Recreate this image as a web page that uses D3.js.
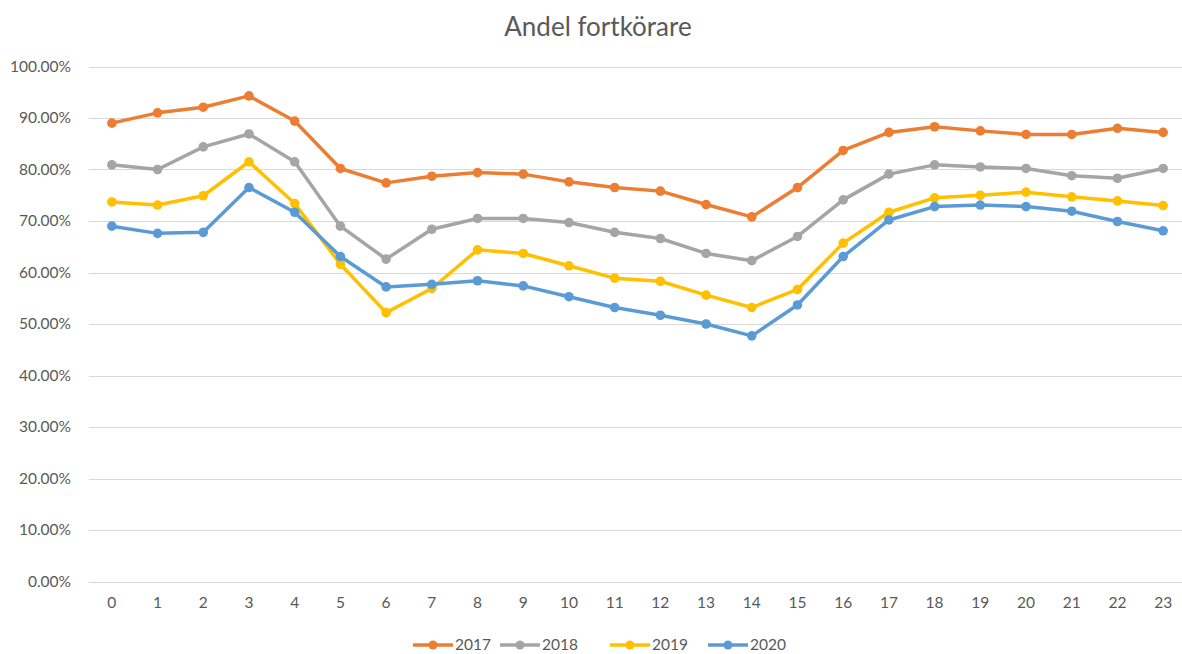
<!DOCTYPE html>
<html>
<head>
<meta charset="utf-8">
<script src="https://cdn.jsdelivr.net/npm/d3@7"></script>
<style>
  body { margin: 0; background: #fff; }
  svg text { font-family: Lato, "Open Sans", sans-serif; fill: #595959; }
</style>
</head>
<body>
<svg id="chart" width="1182" height="654"></svg>
<script>
// hours on the x axis
const hours = d3.range(0, 24).map(String);

// share of speeders per hour (%)
const y2017 = [89.0, 91.0, 92.1, 94.3, 89.4, 80.2, 77.4, 78.7, 79.4, 79.1, 77.6, 76.5,
               75.8, 73.2, 70.8, 76.5, 83.7, 87.2, 88.3, 87.5, 86.8, 86.8, 88.0, 87.2];
const y2018 = [80.9, 80.0, 84.4, 86.9, 81.5, 69.0, 62.6, 68.4, 70.5, 70.5, 69.7, 67.8,
               66.6, 63.7, 62.3, 67.0, 74.1, 79.1, 80.9, 80.5, 80.2, 78.8, 78.3, 80.2];
const y2019 = [73.7, 73.1, 74.9, 81.5, 73.4, 61.6, 52.2, 56.9, 64.4, 63.7, 61.3, 58.9,
               58.3, 55.6, 53.2, 56.7, 65.7, 71.7, 74.5, 75.0, 75.6, 74.7, 73.9, 73.0];
const y2020 = [69.0, 67.6, 67.8, 76.5, 71.7, 63.1, 57.2, 57.7, 58.4, 57.4, 55.3, 53.2,
               51.7, 50.0, 47.7, 53.7, 63.1, 70.2, 72.8, 73.1, 72.8, 71.9, 69.9, 68.1];

const seriesNames = ["2017", "2018", "2019", "2020"];
const colors = ["#ED7D31", "#A5A5A5", "#FFC000", "#5B9BD5"];
const yTicks = d3.range(0, 101, 10);

const series = seriesNames.map((name, i) => ({
  name: name,
  color: colors[i],
  values: [y2017, y2018, y2019, y2020][i]
}));

const svg = d3.select("svg#chart");
const margin = { left: 89, right: -4, top: 66.5, bottom: 72.5 };
const width = 1182, height = 654;

const x = d3.scaleBand()
  .domain(hours)
  .range([margin.left, width - margin.right]);

const y = d3.scaleLinear()
  .domain([0, 100])
  .range([height - margin.bottom, margin.top]);

// title
svg.append("text")
  .attr("x", 598)
  .attr("y", 36)
  .attr("text-anchor", "middle")
  .style("font-size", "26px")
  .text("Andel fortkörare");

// gridlines
svg.append("g")
  .selectAll("line")
  .data(yTicks)
  .enter()
  .append("line")
  .attr("x1", margin.left)
  .attr("x2", width)
  .attr("y1", d => Math.round(y(d)) + 0.5)
  .attr("y2", d => Math.round(y(d)) + 0.5)
  .attr("stroke", "#D9D9D9")
  .attr("stroke-width", 1);

// y axis labels
svg.append("g")
  .selectAll("text")
  .data(yTicks)
  .enter()
  .append("text")
  .attr("x", 71)
  .attr("y", d => y(d))
  .attr("dy", "0.35em")
  .attr("text-anchor", "end")
  .style("font-size", "15.5px")
  .text(d => d.toFixed(2) + "%");

// x axis labels
const xAxis = d3.axisBottom(x).tickSize(0).tickPadding(15);
const xg = svg.append("g")
  .attr("transform", `translate(0,${y(0)})`)
  .call(xAxis);
xg.select(".domain").remove();
xg.selectAll("text")
  .style("font-size", "15.5px")
  .attr("fill", "#595959");

const line = d3.line()
  .x((d, i) => x(hours[i]) + x.bandwidth() / 2)
  .y(d => y(d));

const sg = svg.append("g")
  .selectAll("g")
  .data(series)
  .enter()
  .append("g");

sg.append("path")
  .attr("d", d => line(d.values))
  .attr("fill", "none")
  .attr("stroke", d => d.color)
  .attr("stroke-width", 3.5)
  .attr("stroke-linejoin", "round");

sg.selectAll("circle")
  .data(d => d.values.map(v => ({ v: v, color: d.color })))
  .enter()
  .append("circle")
  .attr("cx", (d, i) => x(hours[i]) + x.bandwidth() / 2)
  .attr("cy", d => y(d.v))
  .attr("r", 4.8)
  .attr("fill", d => d.color);

// legend
const legendX = [413, 500, 610, 708];
const lg = svg.append("g")
  .selectAll("g")
  .data(series)
  .enter()
  .append("g")
  .attr("transform", (d, i) => `translate(${legendX[i]},645)`);

lg.append("line")
  .attr("x1", 0)
  .attr("x2", 40)
  .attr("stroke", d => d.color)
  .attr("stroke-width", 3.5);

lg.append("circle")
  .attr("cx", 20)
  .attr("r", 4.5)
  .attr("fill", d => d.color);

lg.append("text")
  .attr("x", 42)
  .attr("dy", "0.35em")
  .style("font-size", "15.5px")
  .text(d => d.name);
</script>
</body>
</html>
